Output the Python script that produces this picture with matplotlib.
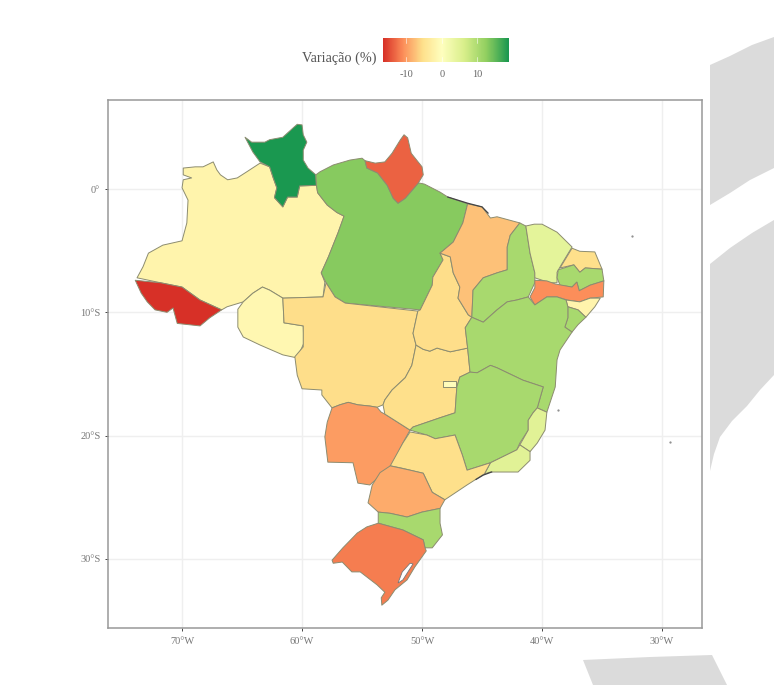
import matplotlib
matplotlib.use("Agg")
import matplotlib.pyplot as plt
from matplotlib.colors import LinearSegmentedColormap, TwoSlopeNorm
import numpy as np

plt.rcParams["font.family"] = ["Liberation Serif", "DejaVu Serif"]

RR = [(-64.75,4.2),(-64.2,3.8),(-63.1,3.8),(-62.7,4.0),(-61.6,4.2),(-60.75,4.95),(-60.4,5.25),(-60,5.2),(-59.9,4.4),
      (-59.6,3.8),(-59.9,3.15),(-59.9,2.35),(-59.5,1.7),(-58.85,1.15),(-58.8,0.3),(-60.2,0.25),(-60.4,-0.65),(-61.2,-0.65),
      (-61.6,-1.45),(-62.3,-0.7),(-62.1,0.1),(-62.4,0.9),(-62.7,1.8),(-63.5,2.2),(-64.1,3.0)]
AM = [(-69.9,1.7),(-68.9,1.8),(-68.25,1.8),(-67.4,2.2),(-67.1,1.55),(-66.8,1.15),(-66.2,0.75),(-65.4,0.9),(-64.6,1.4),
      (-63.5,2.1),(-62.7,1.8),(-62.4,0.9),(-62.1,0.1),(-62.3,-0.7),(-61.6,-1.45),(-61.2,-0.65),(-60.4,-0.65),(-60.2,0.25),
      (-58.8,0.3),(-58.7,-0.3),(-57.9,-1.3),(-57.1,-1.9),(-56.5,-2.2),(-57,-3.55),(-57.8,-5.5),(-58.4,-6.8),(-58.1,-7.55),
      (-58.25,-8.75),(-61.6,-8.85),(-62.7,-8.2),(-63.3,-7.95),(-64.1,-8.45),(-64.9,-9.15),(-66.25,-9.55),(-66.7,-9.8),
      (-68.5,-9.0),(-70,-7.95),(-71.8,-7.6),(-73.75,-7.2),(-73.25,-6.3),(-72.8,-5.2),(-71.6,-4.55),(-70,-4.2),(-69.6,-2.75),
      (-69.5,-0.9),(-70,0.1),(-69.9,0.75),(-69.2,0.9),(-69.9,1.15)]
AC = [(-73.9,-7.4),(-71.8,-7.6),(-70,-7.95),(-68.5,-9.0),(-66.7,-9.8),(-67.7,-10.45),(-68.5,-11.1),(-70.4,-10.9),
      (-70.75,-9.65),(-71.25,-10),(-72.25,-9.8),(-72.9,-9.15),(-73.4,-8.45)]
RO = [(-65.35,-9.75),(-64.9,-9.15),(-64.1,-8.45),(-63.3,-7.95),(-62.7,-8.2),(-61.6,-8.85),(-61.5,-10.85),(-59.9,-11.1),
      (-59.85,-12.5),(-60.4,-13.7),(-61.6,-13.45),(-63.5,-12.65),(-64.9,-12),(-65.35,-11.2)]
AP = [(-54.75,2.3),(-53.9,2.1),(-53.1,2.2),(-52.5,2.9),(-51.8,4.0),(-51.5,4.4),(-51.2,4.15),(-50.9,2.9),(-50,1.8),
      (-49.9,1.15),(-50.3,0.5),(-51.4,-0.75),(-52,-1.15),(-52.4,-0.75),(-52.9,0.3),(-53.7,1.3),(-54.6,1.7)]
PA = [(-58.85,1.15),(-58.5,1.4),(-57.4,1.95),(-56,2.35),(-55,2.5),(-54.75,2.3),(-54.6,1.7),(-53.7,1.3),(-52.9,0.3),
      (-52.4,-0.75),(-52,-1.15),(-51.4,-0.75),(-50.3,0.5),(-49.8,0.4),(-48.5,-0.25),(-47.85,-0.65),(-46.2,-1.2),(-46.6,-2.75),
      (-47.4,-4.3),(-48.5,-5.2),(-48.25,-5.75),(-49.1,-7.15),(-49.15,-7.8),(-50.15,-9.8),(-56.4,-9.25),(-57.25,-8.75),
      (-58,-7.6),(-58.4,-6.8),(-57.8,-5.5),(-57,-3.55),(-56.5,-2.2),(-57.1,-1.9),(-57.9,-1.3),(-58.7,-0.3),(-58.8,0.3)]
MT = [(-61.6,-8.85),(-58.25,-8.75),(-58,-7.6),(-57.25,-8.75),(-56.4,-9.25),(-50.35,-9.9),(-50.75,-11.7),(-50.5,-12.65),
      (-50.85,-14.3),(-51.4,-15.3),(-52.5,-16.3),(-53.1,-17.1),(-53.25,-17.5),(-53.75,-17.7),(-54.35,-17.6),(-55.35,-17.5),
      (-56.15,-17.3),(-56.85,-17.5),(-57.5,-17.75),(-58.35,-16.7),(-58.35,-16.3),(-60,-16.2),(-60.4,-15.1),(-60.6,-13.6),
      (-59.9,-12.8),(-59.9,-11.1),(-61.5,-10.85)]
MS = [(-57.5,-17.75),(-56.85,-17.5),(-56.15,-17.3),(-55.35,-17.5),(-54.35,-17.6),(-53.75,-17.7),(-53.4,-18.1),(-53.1,-18.25),
      (-51,-19.55),(-51.6,-20.6),(-52.5,-22.4),(-54.35,-24),(-55.35,-23.85),(-55.75,-22.2),(-57.85,-22.15),(-58.1,-20.1),(-57.9,-18.9)]
GO = [(-50.5,-12.65),(-49.9,-13),(-49.35,-13.15),(-48.75,-12.9),(-47.65,-13.2),(-46.2,-12.9),(-46,-14.85),(-46.85,-15.25),
      (-47.1,-16.05),(-47.25,-18.15),(-48.5,-18.55),(-50.75,-19.3),(-51,-19.55),(-53.1,-18.25),(-53.25,-17.5),(-53.1,-17.1),
      (-52.5,-16.3),(-51.4,-15.3),(-50.85,-14.3)]
DF = [(-48.25,-15.6),(-47.2,-15.6),(-47.2,-16.05),(-48.25,-16.05)]
TO = [(-48.5,-5.2),(-47.65,-5.5),(-47.4,-6.8),(-46.85,-7.95),(-47,-8.85),(-46.15,-10.2),(-45.85,-10.4),(-46.4,-11.25),
      (-46.2,-12.9),(-47.65,-13.2),(-48.75,-12.9),(-49.35,-13.15),(-49.9,-13),(-50.5,-12.65),(-50.75,-11.7),(-50.35,-9.9),
      (-50.15,-9.8),(-49.15,-7.8),(-49.1,-7.15),(-48.25,-5.75)]
MA = [(-46.2,-1.2),(-45,-1.45),(-44.3,-2.35),(-43.75,-2.25),(-41.85,-2.75),(-42.65,-3.75),(-42.9,-4.7),(-42.9,-6.55),
      (-43.75,-6.8),(-44.9,-7.2),(-45.75,-8.2),(-45.85,-10.4),(-46.15,-10.2),(-47,-8.85),(-46.85,-7.95),(-47.4,-6.8),
      (-47.65,-5.5),(-48.5,-5.2),(-47.4,-4.3),(-46.6,-2.75)]
PI = [(-41.85,-2.75),(-41.35,-3),(-41,-5.2),(-40.6,-6.8),(-40.6,-7.6),(-41.15,-8.75),(-42.1,-9),(-42.9,-9.15),(-43.75,-9.8),
      (-44.9,-10.8),(-45.85,-10.4),(-45.75,-8.2),(-44.9,-7.2),(-43.75,-6.8),(-42.9,-6.55),(-42.9,-4.7),(-42.65,-3.75)]
CE = [(-41.35,-3),(-40.65,-2.85),(-40,-2.85),(-38.75,-3.5),(-37.5,-4.7),(-38.4,-6.15),(-38.75,-6.75),(-38.75,-7.6),
      (-39.35,-7.6),(-40.6,-7.2),(-40.6,-6.8),(-41,-5.2)]
RN = [(-37.5,-4.8),(-36.85,-5.05),(-35.6,-5.1),(-35,-6.5),(-36.4,-6.4),(-36.85,-6.75),(-37.35,-6.15),(-38.5,-6.4)]
PB = [(-38.65,-6.55),(-37.35,-6.15),(-36.85,-6.75),(-36.4,-6.4),(-35,-6.5),(-34.85,-7.45),(-36,-7.8),(-36.9,-8.25),
      (-37.1,-7.55),(-37.5,-7.95),(-38.5,-7.8),(-38.75,-7.2)]
PE = [(-40.6,-7.4),(-39.6,-7.45),(-38.9,-7.7),(-37.5,-7.95),(-37.1,-7.55),(-36.9,-8.25),(-36,-7.8),(-34.85,-7.45),
      (-34.9,-8.75),(-36,-8.85),(-36.85,-9.15),(-37.9,-9),(-38.75,-8.75),(-39.6,-8.75),(-40.6,-9.4),(-41,-8.75),(-40.6,-8.0)]
AL = [(-38,-9),(-36.85,-9.15),(-36,-8.85),(-35.15,-8.85),(-35.6,-9.55),(-36.35,-10.4),(-37,-9.8),(-37.85,-9.55)]
SE = [(-37.85,-9.55),(-37,-9.8),(-36.35,-10.4),(-37,-11),(-37.5,-11.6),(-38.1,-11.2),(-37.85,-10.45)]
BA = [(-46.4,-11.25),(-45.85,-10.4),(-44.9,-10.8),(-43.75,-9.8),(-42.9,-9.15),(-42.1,-9),(-41.15,-8.75),(-40.6,-9.4),
      (-39.6,-8.75),(-38.75,-8.75),(-38,-9),(-37.85,-9.55),(-37.85,-10.45),(-38.1,-11.2),(-37.5,-11.6),(-38.5,-13.05),
      (-38.75,-13.85),(-38.9,-16.05),(-39.6,-18.1),(-40.4,-17.75),(-39.9,-16.05),(-41.6,-15.5),(-43.75,-14.5),(-44.3,-14.3),
      (-45.4,-14.9),(-46,-14.85),(-46.2,-12.9)]
MG = [(-46,-14.85),(-45.4,-14.9),(-44.3,-14.3),(-43.75,-14.5),(-41.6,-15.5),(-39.9,-16.05),(-40.4,-17.75),(-40.75,-18.15),
      (-41.15,-18.75),(-41.15,-19.55),(-41.85,-20.6),(-42.1,-21.15),(-44.3,-22.2),(-46.25,-22.8),(-46.65,-21.55),(-47.25,-19.95),
      (-48.9,-20.25),(-49.6,-19.95),(-51,-19.55),(-50.75,-19.3),(-48.5,-18.55),(-47.25,-18.15),(-47.1,-16.05),(-46.85,-15.25)]
ES = [(-40.4,-17.75),(-39.6,-18.1),(-39.75,-19.55),(-40.4,-20.6),(-41,-21.3),(-41.85,-20.75),(-41.15,-19.55),(-41.15,-18.75),(-40.75,-18.15)]
RJ = [(-44.3,-22.2),(-42.1,-21.15),(-41.85,-20.75),(-41,-21.3),(-41,-22),(-42,-22.95),(-43.25,-22.95),(-44.3,-22.95),(-44.8,-23.1)]
SP = [(-51,-19.7),(-49.6,-19.95),(-48.9,-20.25),(-47.25,-19.95),(-46.65,-21.55),(-46.25,-22.8),(-44.3,-22.2),(-44.8,-23.1),
      (-46.25,-24),(-48.1,-25.2),(-49.15,-24.6),(-49.9,-23.05),(-51.85,-22.6),(-52.65,-22.45),(-51.6,-20.6)]
PR = [(-52.65,-22.45),(-51,-22.8),(-49.9,-23.05),(-49.15,-24.6),(-48.1,-25.2),(-48.5,-25.9),(-50,-26.2),(-51.25,-26.6),
      (-52.65,-26.3),(-53.65,-26.2),(-54.5,-25.45),(-54.15,-24),(-53.5,-23)]
SC = [(-53.65,-26.2),(-52.65,-26.3),(-51.25,-26.6),(-50,-26.2),(-48.5,-25.9),(-48.5,-27.1),(-48.3,-28.05),(-49.15,-29.1),
      (-49.75,-29.1),(-49.9,-28.45),(-51.6,-27.65),(-53.65,-27.1)]
RS = [(-53.65,-27.1),(-51.6,-27.65),(-49.9,-28.45),(-49.75,-29.1),(-49.65,-29.35),(-50.6,-30.65),(-51.25,-31.7),(-52.25,-32.5),
      (-52.85,-33.35),(-53.35,-33.75),(-53.4,-33.15),(-53.1,-32.7),(-53.75,-32.1),(-55.15,-31.05),(-55.85,-31.05),(-56.65,-30.25),
      (-57.4,-30.35),(-57.5,-30.1),(-56.6,-29.1),(-55.4,-27.9),(-54.6,-27.4)]
LAGOA = [(-51,-30.35),(-50.75,-30.4),(-51.6,-31.7),(-52,-31.95),(-51.65,-31.05)]
COSTA_MA = [(-47.85,-0.65),(-46.2,-1.15),(-45,-1.45),(-44.5,-1.95)]
COSTA_SP = [(-45.5,-23.55),(-44.9,-23.2),(-44.2,-22.95)]
ILHAS = [(-32.5,-3.8),(-29.35,-20.5),(-38.7,-17.9)]

ETATS = [AM, AC, RO, RR, PA, AP, MT, MS, GO, TO, MA, PI, CE, RN, PB, PE, AL, SE, BA, MG, ES, RJ, SP, PR, SC, RS, DF]
# variation (%) par état, estimée à partir des couleurs
VARIATION = [-2, -16.6, -1.5, 18.9, 13, -13.5, -5.6, -10, -5.5, -5.6, -7.6, 10.6, 4.5, -5.5, 10.6, -11, -2, 10.6,
             10.6, 10.6, 5, 5, -5.5, -9, 10.6, -12, -0.5]

LON_TICKS = [-70, -60, -50, -40, -30]
LON_LABELS = ["70°W", "60°W", "50°W", "40°W", "30°W"]
LAT_TICKS = [0, -10, -20, -30]
LAT_LABELS = ["0°", "10°S", "20°S", "30°S"]
CB_TICKS = [-10, 0, 10]
CB_MIN, CB_MAX = -16.6, 18.9
COULEURS = ["#D73027", "#FC8D59", "#FEE08B", "#FFFFBF", "#D9EF8B", "#91CF60", "#1A9850"]

# formes grises de l'arrière-plan (pixels de l'image)
FOND = [
    [(710,65),(730,56),(752,45),(774,37),(774,168),(750,180),(730,193),(710,205)],
    [(710,264),(730,248),(752,233),(774,220),(774,375),(760,390),(747,406),(732,421),(720,437),(714,454),(710,471)],
    [(583,660),(650,657),(712,655),(727,685),(593,685)],
]

cmap = LinearSegmentedColormap.from_list("rdylgn", COULEURS)
norm = TwoSlopeNorm(vmin=CB_MIN, vcenter=0, vmax=CB_MAX)

W, H = 774, 685
fig = plt.figure(figsize=(W / 100, H / 100), dpi=100)

fond = fig.add_axes([0, 0, 1, 1])
fond.set_xlim(0, W)
fond.set_ylim(H, 0)
fond.axis("off")
for forme in FOND:
    xs, ys = zip(*forme)
    fond.fill(xs, ys, color="#DBDBDB", lw=0)

# carte
ax = fig.add_axes([108 / W, 1 - 628 / H, 594 / W, 528 / H])
ax.set_xlim(-76.17, -26.67)
ax.set_ylim(-35.6, 7.22)
ax.set_xticks(LON_TICKS, LON_LABELS)
ax.set_yticks(LAT_TICKS, LAT_LABELS)
ax.grid(color="#EFEFEF", linewidth=1)
ax.set_axisbelow(True)
ax.tick_params(labelsize=7.5, labelcolor="#777777", color="#444444", length=2.5, width=0.7)
ax.tick_params(axis="x", pad=4)
ax.tick_params(axis="y", pad=3)
for s in ax.spines.values():
    s.set_color("#999999")
    s.set_linewidth(1.1)

for contour, val in zip(ETATS, VARIATION):
    xs, ys = zip(*contour)
    ax.fill(xs, ys, facecolor=cmap(norm(val)), edgecolor="#8C8C70", linewidth=0.7, joinstyle="round")

xs, ys = zip(*LAGOA)
ax.fill(xs, ys, facecolor="white", edgecolor="#777777", linewidth=0.6)
for costa in (COSTA_MA, COSTA_SP):
    xs, ys = zip(*costa)
    ax.plot(xs, ys, color="#444444", linewidth=0.9)
xs, ys = zip(*ILHAS)
ax.plot(xs, ys, ls="none", marker=".", ms=1.2, color="#888888")

# barre de couleur
cax = fig.add_axes([383 / W, 1 - 62 / H, 126 / W, 24 / H])
grad = np.linspace(CB_MIN, CB_MAX, 256).reshape(1, -1)
cax.imshow(grad, aspect="auto", cmap=cmap, norm=norm, extent=[CB_MIN, CB_MAX, 0, 1])
cax.set_yticks([])
cax.set_xticks(CB_TICKS, ["-10", "0", "10"])
cax.tick_params(labelsize=7.5, labelcolor="#666666", length=0, pad=6)
for t in CB_TICKS:
    cax.plot([t, t], [0, 0.2], color="white", lw=0.4)
    cax.plot([t, t], [0.8, 1], color="white", lw=0.4)
cax.set_xlim(CB_MIN, CB_MAX)
cax.set_ylim(0, 1)
for s in cax.spines.values():
    s.set_visible(False)
fig.text(376 / W, 1 - 58 / H, "Variação (%)", ha="right", va="center", fontsize=10.3, color="#555555")

fig.savefig("out.png", dpi=100)
